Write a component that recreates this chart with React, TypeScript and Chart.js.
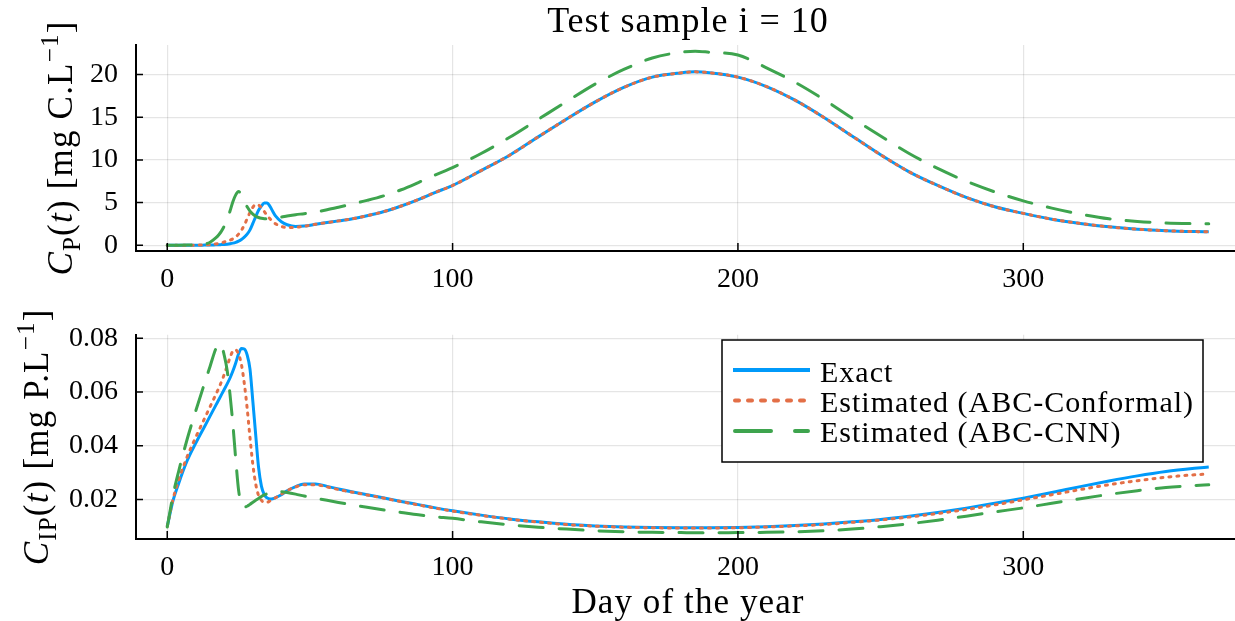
import React, { useEffect, useRef } from 'react';
import { Chart, registerables } from 'chart.js';

Chart.register(...registerables);

// ---------------- data ----------------
const days = [0, 2, 4, 7, 10, 13, 15, 17, 18, 19, 20, 21, 22, 23, 24, 25, 26, 27, 28, 29, 30, 31, 32, 33, 34, 35, 36, 37, 38, 40, 42, 45, 48, 52, 56, 60, 65, 70, 76, 82, 88, 94, 100, 110, 120, 130, 140, 150, 160, 170, 180, 185, 190, 200, 210, 220, 230, 240, 250, 260, 270, 280, 290, 300, 310, 320, 330, 340, 350, 360, 365];

const cpExact = [0, 0, 0, 0, 0, 0.01, 0.02, 0.04, 0.05, 0.07, 0.09, 0.12, 0.17, 0.24, 0.34, 0.48, 0.68, 0.95, 1.3, 1.8, 2.55, 3.35, 4.1, 4.6, 4.95, 4.95, 4.55, 3.95, 3.4, 2.75, 2.4, 2.2, 2.25, 2.45, 2.65, 2.85, 3.1, 3.45, 3.95, 4.6, 5.35, 6.2, 7.0, 8.75, 10.55, 12.7, 14.8, 16.8, 18.5, 19.7, 20.2, 20.32, 20.22, 19.7, 18.6, 17.0, 15.0, 12.8, 10.6, 8.6, 7.0, 5.6, 4.5, 3.73, 3.05, 2.55, 2.15, 1.87, 1.7, 1.6, 1.57];

const cpConformal = [0, 0, 0, 0, 0.01, 0.03, 0.06, 0.14, 0.2, 0.28, 0.38, 0.48, 0.6, 0.75, 0.98, 1.3, 1.75, 2.35, 3.1, 3.85, 4.45, 4.75, 4.7, 4.4, 3.95, 3.5, 3.1, 2.75, 2.5, 2.2, 2.07, 2.1, 2.22, 2.45, 2.65, 2.85, 3.1, 3.45, 3.95, 4.6, 5.35, 6.2, 7.0, 8.75, 10.55, 12.7, 14.8, 16.8, 18.5, 19.7, 20.2, 20.32, 20.22, 19.7, 18.6, 17.0, 15.0, 12.8, 10.6, 8.6, 7.0, 5.6, 4.5, 3.73, 3.05, 2.55, 2.15, 1.87, 1.7, 1.6, 1.57];

const cpCNN = [0, 0, 0, 0.01, 0.03, 0.12, 0.35, 0.85, 1.2, 1.65, 2.25, 3.0, 4.0, 5.1, 5.9, 6.3, 5.9, 5.1, 4.5, 4.0, 3.65, 3.4, 3.25, 3.15, 3.1, 3.1, 3.1, 3.15, 3.2, 3.3, 3.42, 3.58, 3.7, 3.9, 4.15, 4.45, 4.85, 5.25, 5.8, 6.5, 7.35, 8.25, 9.1, 10.75, 12.65, 14.75, 16.85, 18.9, 20.6, 21.95, 22.62, 22.75, 22.62, 22.3, 20.8, 19.1, 17.1, 14.9, 12.8, 10.75, 9.0, 7.5, 6.25, 5.2, 4.35, 3.65, 3.1, 2.78, 2.6, 2.52, 2.5];

const cipExact = [0.0100, 0.0195, 0.0260, 0.0345, 0.0410, 0.0470, 0.0510, 0.0550, 0.0570, 0.0590, 0.0610, 0.0630, 0.0652, 0.0678, 0.0708, 0.0742, 0.0762, 0.0760, 0.0738, 0.0685, 0.0565, 0.0440, 0.0320, 0.0250, 0.0218, 0.0206, 0.0202, 0.0203, 0.0207, 0.0218, 0.0232, 0.0248, 0.0258, 0.0258, 0.0249, 0.0239, 0.0228, 0.0218, 0.0206, 0.0193, 0.0181, 0.0169, 0.0158, 0.0142, 0.0128, 0.0117, 0.0108, 0.0102, 0.0098, 0.0096, 0.0095, 0.0095, 0.0095, 0.0096, 0.0099, 0.0103, 0.0109, 0.0117, 0.0126, 0.0138, 0.0152, 0.0168, 0.0186, 0.0205, 0.0226, 0.0248, 0.0269, 0.0288, 0.0304, 0.0316, 0.0321];

const cipConformal = [0.0100, 0.0200, 0.0272, 0.0360, 0.0432, 0.0500, 0.0545, 0.0590, 0.0613, 0.0638, 0.0666, 0.0697, 0.0728, 0.0752, 0.0756, 0.0740, 0.0702, 0.0632, 0.0540, 0.0430, 0.0330, 0.0258, 0.0215, 0.0197, 0.0190, 0.0190, 0.0195, 0.0201, 0.0207, 0.0220, 0.0233, 0.0247, 0.0255, 0.0255, 0.0247, 0.0237, 0.0227, 0.0217, 0.0205, 0.0192, 0.0180, 0.0168, 0.0157, 0.0141, 0.0127, 0.0116, 0.0107, 0.0101, 0.0097, 0.0095, 0.0094, 0.0094, 0.0094, 0.0095, 0.0098, 0.0102, 0.0107, 0.0115, 0.0124, 0.0135, 0.0148, 0.0163, 0.0180, 0.0199, 0.0218, 0.0237, 0.0255, 0.0270, 0.0283, 0.0292, 0.0295];

const cipCNN = [0.0098, 0.0215, 0.0305, 0.0425, 0.0530, 0.0630, 0.0695, 0.0760, 0.0778, 0.0772, 0.0735, 0.0680, 0.0590, 0.0480, 0.0350, 0.0235, 0.0182, 0.0172, 0.0175, 0.0182, 0.0190, 0.0197, 0.0204, 0.0211, 0.0217, 0.0222, 0.0226, 0.0229, 0.0230, 0.0229, 0.0226, 0.0220, 0.0213, 0.0205, 0.0197, 0.0189, 0.0180, 0.0171, 0.0161, 0.0152, 0.0143, 0.0136, 0.0130, 0.0117, 0.0106, 0.0097, 0.0090, 0.0084, 0.0080, 0.0078, 0.0077, 0.0076, 0.0076, 0.0077, 0.0078, 0.0080, 0.0084, 0.0090, 0.0099, 0.0110, 0.0123, 0.0138, 0.0154, 0.0169, 0.0186, 0.0203, 0.0219, 0.0233, 0.0245, 0.0252, 0.0255];

const xTicks = [0, 100, 200, 300];
const cpTicks = [0, 5, 10, 15, 20];
const cipTicks = [0.02, 0.04, 0.06, 0.08];
const seriesLabels = ['Exact', 'Estimated (ABC-Conformal)', 'Estimated (ABC-CNN)'];
const titleText = 'Test sample i = 10';
const xLabelText = 'Day of the year';

// ---------------- styles ----------------
const COLORS = ['#009AFA', '#E36F47', '#3EA44E'];
const DASHES = [[], [2, 6], [24, 16]];
const CAPS = ['butt', 'round', 'round'];
const FONT = '"Liberation Serif", "Times New Roman", serif';

type Part = { t: string; it?: boolean; sub?: boolean; sup?: boolean };
const cpLabel: Part[] = [
  { t: 'C', it: true }, { t: 'P', sub: true }, { t: '(' }, { t: 't', it: true }, { t: ')' },
  { t: ' [mg C.L' }, { t: '\u22121', sup: true }, { t: ']' },
];
const cipLabel: Part[] = [
  { t: 'C', it: true }, { t: 'IP', sub: true }, { t: '(' }, { t: 't', it: true }, { t: ')' },
  { t: ' [mg P.L' }, { t: '\u22121', sup: true }, { t: ']' },
];

function setLS(ctx: any, px: number) {
  if ('letterSpacing' in ctx) ctx.letterSpacing = px + 'px';
}

function drawRich(ctx: CanvasRenderingContext2D, parts: Part[], size: number, ls: number) {
  const fontFor = (p: Part) =>
    `${p.it ? 'italic ' : ''}${p.sub || p.sup ? Math.round(size * 0.7) : size}px ${FONT}`;
  setLS(ctx, ls);
  const widths = parts.map((p) => {
    ctx.font = fontFor(p);
    return ctx.measureText(p.t).width;
  });
  const total = widths.reduce((a, b) => a + b, 0);
  let x = -total / 2;
  ctx.textAlign = 'left';
  ctx.textBaseline = 'alphabetic';
  parts.forEach((p, i) => {
    ctx.font = fontFor(p);
    const dy = p.sub ? size * 0.22 : p.sup ? -size * 0.4 : 0;
    ctx.fillText(p.t, x, dy);
    x += widths[i];
  });
}

function drawRotatedLabel(ctx: CanvasRenderingContext2D, parts: Part[], bx: number, cy: number) {
  ctx.save();
  ctx.fillStyle = '#000';
  ctx.translate(bx, cy);
  ctx.rotate(-Math.PI / 2);
  drawRich(ctx, parts, 35, 1.2);
  ctx.restore();
}

function drawInnerTicks(chart: any) {
  const ctx = chart.ctx as CanvasRenderingContext2D;
  const a = chart.chartArea;
  const xs = chart.scales.x;
  const ys = chart.scales.y;
  ctx.save();
  ctx.strokeStyle = '#000';
  ctx.lineWidth = 1.5;
  ctx.beginPath();
  xs.ticks.forEach((t: any) => {
    const px = xs.getPixelForValue(t.value);
    ctx.moveTo(px, a.bottom);
    ctx.lineTo(px, a.bottom - 8);
  });
  ys.ticks.forEach((t: any) => {
    const py = ys.getPixelForValue(t.value);
    ctx.moveTo(a.left, py);
    ctx.lineTo(a.left + 7, py);
  });
  ctx.stroke();
  ctx.restore();
}

function makeDatasets(series: number[][]) {
  return series.map((vals, i) => ({
    label: seriesLabels[i],
    data: days.map((d, j) => ({ x: d, y: vals[j] })),
    borderColor: COLORS[i],
    backgroundColor: COLORS[i],
    borderWidth: 3,
    borderDash: DASHES[i],
    borderCapStyle: CAPS[i],
    pointRadius: 0,
    pointHoverRadius: 0,
    cubicInterpolationMode: 'monotone',
    fill: false,
    order: 3 - i,
  }));
}

function xScale(height: number) {
  return {
    type: 'linear',
    min: -10.95,
    max: 375.95,
    afterBuildTicks: (s: any) => {
      s.ticks = xTicks.map((v) => ({ value: v }));
    },
    afterFit: (s: any) => {
      s.height = height;
    },
    grid: { color: 'rgba(0,0,0,0.1)', lineWidth: 1.2, drawTicks: false },
    border: { display: true, color: '#000', width: 2 },
    ticks: {
      font: { family: FONT, size: 28 },
      color: '#000',
      padding: 12,
      maxRotation: 0,
      autoSkip: false,
      callback: (v: any) => String(v),
    },
  };
}

function yScale(min: number, max: number, ticks: number[], fmt: (v: number) => string) {
  return {
    type: 'linear',
    min,
    max,
    afterBuildTicks: (s: any) => {
      s.ticks = ticks.map((v) => ({ value: v }));
    },
    afterFit: (s: any) => {
      s.width = 136;
    },
    grid: { color: 'rgba(0,0,0,0.1)', lineWidth: 1.2, drawTicks: false },
    border: { display: true, color: '#000', width: 2 },
    ticks: {
      font: { family: FONT, size: 28 },
      color: '#000',
      padding: 18,
      autoSkip: false,
      callback: (v: any) => fmt(Number(v)),
    },
  };
}

const topDecor = {
  id: 'topDecor',
  afterDraw(chart: any) {
    const ctx = chart.ctx as CanvasRenderingContext2D;
    const a = chart.chartArea;
    drawInnerTicks(chart);
    ctx.save();
    ctx.fillStyle = '#000';
    ctx.font = `36px ${FONT}`;
    setLS(ctx, 1);
    ctx.textAlign = 'center';
    ctx.textBaseline = 'alphabetic';
    ctx.fillText(titleText, (a.left + a.right) / 2, 32);
    ctx.restore();
    drawRotatedLabel(ctx, cpLabel, 72, (a.top + a.bottom) / 2);
  },
};

const bottomDecor = {
  id: 'bottomDecor',
  afterDraw(chart: any) {
    const ctx = chart.ctx as CanvasRenderingContext2D;
    const a = chart.chartArea;
    drawInnerTicks(chart);
    // x label
    ctx.save();
    ctx.fillStyle = '#000';
    ctx.font = `35px ${FONT}`;
    setLS(ctx, 1.1);
    ctx.textAlign = 'center';
    ctx.textBaseline = 'alphabetic';
    ctx.fillText(xLabelText, (a.left + a.right) / 2, 313);
    ctx.restore();
    drawRotatedLabel(ctx, cipLabel, 48, (a.top + a.bottom) / 2);

    // legend
    const L = 722, T = 40, W = 481, H = 122;
    ctx.save();
    ctx.fillStyle = '#fff';
    ctx.fillRect(L, T, W, H);
    ctx.strokeStyle = '#000';
    ctx.lineWidth = 1.5;
    ctx.strokeRect(L, T, W, H);
    const legDash = [[], [4, 9], [36, 24]];
    const legCap: CanvasLineCap[] = ['butt', 'round', 'round'];
    seriesLabels.forEach((lab, i) => {
      const ly = 70 + i * 30.5;
      ctx.beginPath();
      ctx.strokeStyle = COLORS[i];
      ctx.lineWidth = 4;
      ctx.lineCap = legCap[i];
      ctx.setLineDash(legDash[i]);
      ctx.moveTo(i === 0 ? 733 : 735, ly);
      ctx.lineTo(i === 0 ? 810 : 808, ly);
      ctx.stroke();
      ctx.setLineDash([]);
      ctx.fillStyle = '#000';
      ctx.font = `30px ${FONT}`;
      setLS(ctx, 1);
      ctx.textAlign = 'left';
      ctx.textBaseline = 'alphabetic';
      ctx.fillText(lab, 820, 81.7 + i * 30);
      setLS(ctx, 0);
    });
    ctx.restore();
  },
};

export default function App() {
  const topRef = useRef<HTMLCanvasElement>(null);
  const botRef = useRef<HTMLCanvasElement>(null);

  useEffect(() => {
    const c1 = new Chart(topRef.current as HTMLCanvasElement, {
      type: 'line',
      data: { datasets: makeDatasets([cpExact, cpConformal, cpCNN]) as any },
      options: {
        animation: false,
        responsive: false,
        devicePixelRatio: 1,
        layout: { padding: { top: 45, left: 0, right: 0, bottom: 0 } },
        plugins: { legend: { display: false }, tooltip: { enabled: false }, title: { display: false } },
        scales: {
          x: xScale(49) as any,
          y: yScale(-0.68, 23.47, cpTicks, (v) => String(v)) as any,
        },
      },
      plugins: [topDecor],
    });
    const c2 = new Chart(botRef.current as HTMLCanvasElement, {
      type: 'line',
      data: { datasets: makeDatasets([cipExact, cipConformal, cipCNN]) as any },
      options: {
        animation: false,
        responsive: false,
        devicePixelRatio: 1,
        layout: { padding: { top: 33, left: 0, right: 0, bottom: 0 } },
        plugins: { legend: { display: false }, tooltip: { enabled: false }, title: { display: false } },
        scales: {
          x: xScale(82) as any,
          y: yScale(0.00532, 0.08126, cipTicks, (v) => v.toFixed(2)) as any,
        },
      },
      plugins: [bottomDecor],
    });
    return () => {
      c1.destroy();
      c2.destroy();
    };
  }, []);

  return (
    <div
      style={{
        position: 'fixed',
        left: 0,
        top: 0,
        width: 1235,
        height: 621,
        overflow: 'hidden',
        background: '#fff',
      }}
    >
      <canvas ref={topRef} width={1240} height={300} style={{ position: 'absolute', left: 0, top: 0, display: 'block' }} />
      <canvas ref={botRef} width={1240} height={321} style={{ position: 'absolute', left: 0, top: 300, display: 'block' }} />
    </div>
  );
}
